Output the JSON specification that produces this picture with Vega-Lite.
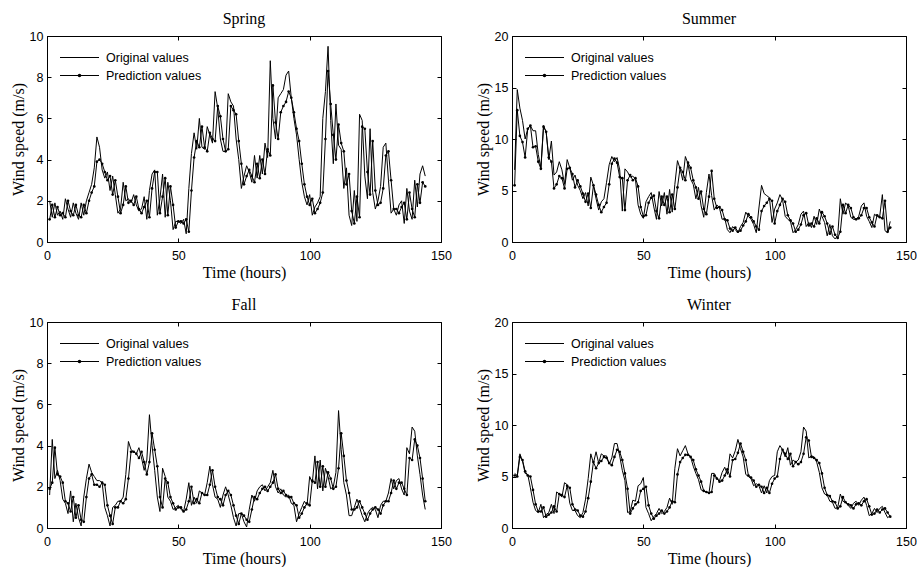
{
"$schema":"https://vega.github.io/schema/vega-lite/v6.json",
"background":"white",
"padding":{"left":9,"top":10,"right":0,"bottom":0},
"config":{
 "view":{"stroke":"black","strokeWidth":1},
 "axis":{"labelFont":"Liberation Sans","labelFontSize":12.5,"labelColor":"black","titleFont":"Liberation Serif","titleFontSize":16,"titleFontWeight":"normal","titleColor":"black","domainColor":"black","tickColor":"black","grid":false,"tickSize":-4,"labelFlush":false,"titlePadding":3},
 "axisX":{"labelPadding":11},
 "axisY":{"labelPadding":8},
 "title":{"font":"Liberation Serif","fontSize":16,"fontWeight":"normal","color":"black","offset":3.5,"baseline":"alphabetic"},
 "legend":{"labelFont":"Liberation Sans","labelFontSize":12.5,"labelColor":"black"}
},
"datasets":{
"spring":[{"t":1,"o":2.0,"p":1.1},{"t":2,"o":1.2,"p":1.8},{"t":3,"o":1.9,"p":1.2},{"t":4,"o":1.3,"p":1.7},{"t":5,"o":1.5,"p":1.3},{"t":6,"o":1.1,"p":1.4},{"t":7,"o":2.1,"p":1.2},{"t":8,"o":1.6,"p":2.0},{"t":9,"o":1.2,"p":1.5},{"t":10,"o":1.9,"p":1.3},{"t":11,"o":1.4,"p":1.8},{"t":12,"o":1.1,"p":1.3},{"t":13,"o":1.9,"p":1.2},{"t":14,"o":1.3,"p":1.8},{"t":15,"o":2.0,"p":1.4},{"t":16,"o":2.4,"p":2.0},{"t":17,"o":2.8,"p":2.4},{"t":18,"o":3.6,"p":2.7},{"t":19,"o":5.1,"p":3.9},{"t":20,"o":4.6,"p":4.0},{"t":21,"o":3.5,"p":3.8},{"t":22,"o":3.1,"p":3.4},{"t":23,"o":3.4,"p":3.0},{"t":24,"o":2.5,"p":3.2},{"t":25,"o":3.2,"p":2.3},{"t":26,"o":2.3,"p":3.0},{"t":27,"o":1.4,"p":2.2},{"t":28,"o":1.6,"p":1.4},{"t":29,"o":2.9,"p":1.8},{"t":30,"o":2.0,"p":2.7},{"t":31,"o":2.1,"p":1.9},{"t":32,"o":1.9,"p":2.0},{"t":33,"o":2.3,"p":1.8},{"t":34,"o":1.8,"p":2.2},{"t":35,"o":1.5,"p":1.6},{"t":36,"o":1.6,"p":1.4},{"t":37,"o":2.2,"p":1.7},{"t":38,"o":1.1,"p":2.0},{"t":39,"o":2.5,"p":1.2},{"t":40,"o":3.3,"p":2.6},{"t":41,"o":3.5,"p":3.4},{"t":42,"o":1.3,"p":3.4},{"t":43,"o":2.1,"p":1.4},{"t":44,"o":3.3,"p":2.2},{"t":45,"o":1.2,"p":3.1},{"t":46,"o":2.9,"p":1.3},{"t":47,"o":2.0,"p":2.7},{"t":48,"o":0.6,"p":1.8},{"t":49,"o":1.0,"p":0.7},{"t":50,"o":1.0,"p":1.0},{"t":51,"o":0.9,"p":1.0},{"t":52,"o":1.1,"p":0.9},{"t":53,"o":0.4,"p":1.1},{"t":54,"o":2.6,"p":0.5},{"t":55,"o":4.3,"p":2.5},{"t":56,"o":5.3,"p":4.1},{"t":57,"o":4.5,"p":4.9},{"t":58,"o":6.0,"p":4.6},{"t":59,"o":4.6,"p":5.6},{"t":60,"o":4.5,"p":4.6},{"t":61,"o":5.6,"p":4.4},{"t":62,"o":5.2,"p":5.3},{"t":63,"o":4.8,"p":5.0},{"t":64,"o":7.3,"p":4.9},{"t":65,"o":6.5,"p":6.6},{"t":66,"o":5.0,"p":6.1},{"t":67,"o":4.4,"p":5.0},{"t":68,"o":4.4,"p":4.4},{"t":69,"o":7.2,"p":4.5},{"t":70,"o":6.8,"p":6.6},{"t":71,"o":6.6,"p":6.4},{"t":72,"o":5.0,"p":6.2},{"t":73,"o":4.0,"p":4.9},{"t":74,"o":2.6,"p":3.8},{"t":75,"o":3.2,"p":2.8},{"t":76,"o":3.7,"p":3.2},{"t":77,"o":3.4,"p":3.5},{"t":78,"o":2.9,"p":3.2},{"t":79,"o":4.2,"p":2.9},{"t":80,"o":3.1,"p":3.8},{"t":81,"o":4.2,"p":3.1},{"t":82,"o":3.3,"p":4.0},{"t":83,"o":4.8,"p":3.3},{"t":84,"o":4.1,"p":4.5},{"t":85,"o":8.8,"p":4.2},{"t":86,"o":6.0,"p":7.6},{"t":87,"o":5.0,"p":5.8},{"t":88,"o":7.0,"p":5.0},{"t":89,"o":7.2,"p":6.3},{"t":90,"o":7.4,"p":6.6},{"t":91,"o":8.1,"p":6.8},{"t":92,"o":8.3,"p":7.3},{"t":93,"o":7.0,"p":7.0},{"t":94,"o":6.0,"p":6.3},{"t":95,"o":5.2,"p":5.5},{"t":96,"o":4.0,"p":4.9},{"t":97,"o":2.9,"p":3.8},{"t":98,"o":2.2,"p":2.8},{"t":99,"o":1.8,"p":2.2},{"t":100,"o":2.3,"p":1.8},{"t":101,"o":1.3,"p":2.1},{"t":102,"o":1.7,"p":1.4},{"t":103,"o":1.9,"p":1.6},{"t":104,"o":2.2,"p":1.9},{"t":105,"o":6.0,"p":2.4},{"t":106,"o":7.3,"p":5.0},{"t":107,"o":9.5,"p":8.3},{"t":108,"o":5.9,"p":6.7},{"t":109,"o":3.8,"p":5.2},{"t":110,"o":6.7,"p":4.0},{"t":111,"o":4.7,"p":5.7},{"t":112,"o":4.5,"p":4.8},{"t":113,"o":2.6,"p":4.4},{"t":114,"o":3.6,"p":2.8},{"t":115,"o":1.3,"p":3.3},{"t":116,"o":0.8,"p":1.5},{"t":117,"o":2.5,"p":0.9},{"t":118,"o":1.0,"p":2.2},{"t":119,"o":6.2,"p":1.2},{"t":120,"o":5.9,"p":5.6},{"t":121,"o":3.2,"p":5.5},{"t":122,"o":2.1,"p":3.4},{"t":123,"o":5.5,"p":2.3},{"t":124,"o":2.4,"p":4.9},{"t":125,"o":1.6,"p":2.5},{"t":126,"o":2.0,"p":1.8},{"t":127,"o":2.7,"p":1.9},{"t":128,"o":4.6,"p":2.6},{"t":129,"o":4.8,"p":4.2},{"t":130,"o":3.0,"p":4.4},{"t":131,"o":1.4,"p":3.0},{"t":132,"o":1.6,"p":1.6},{"t":133,"o":1.3,"p":1.6},{"t":134,"o":1.8,"p":1.4},{"t":135,"o":2.0,"p":1.7},{"t":136,"o":0.9,"p":1.9},{"t":137,"o":2.6,"p":1.1},{"t":138,"o":1.5,"p":2.4},{"t":139,"o":1.1,"p":1.6},{"t":140,"o":3.0,"p":1.2},{"t":141,"o":1.7,"p":2.8},{"t":142,"o":3.3,"p":1.9},{"t":143,"o":3.7,"p":2.9},{"t":144,"o":3.2,"p":2.7}],
"summer":[{"t":1,"o":7.0,"p":5.5},{"t":2,"o":14.8,"p":12.8},{"t":3,"o":13.0,"p":10.3},{"t":4,"o":11.8,"p":9.7},{"t":5,"o":10.0,"p":8.2},{"t":6,"o":11.0,"p":11.0},{"t":7,"o":11.3,"p":11.3},{"t":8,"o":10.8,"p":9.2},{"t":9,"o":10.8,"p":9.3},{"t":10,"o":8.5,"p":7.8},{"t":11,"o":7.2,"p":7.1},{"t":12,"o":11.3,"p":11.2},{"t":13,"o":10.7,"p":10.7},{"t":14,"o":8.0,"p":8.2},{"t":15,"o":9.8,"p":7.8},{"t":16,"o":6.5,"p":5.2},{"t":17,"o":6.8,"p":5.6},{"t":18,"o":7.8,"p":6.4},{"t":19,"o":7.0,"p":6.2},{"t":20,"o":5.6,"p":5.2},{"t":21,"o":8.0,"p":7.1},{"t":22,"o":7.2,"p":7.2},{"t":23,"o":6.0,"p":6.6},{"t":24,"o":6.5,"p":5.3},{"t":25,"o":5.5,"p":6.0},{"t":26,"o":5.0,"p":5.4},{"t":27,"o":4.2,"p":4.7},{"t":28,"o":4.8,"p":3.9},{"t":29,"o":3.5,"p":4.7},{"t":30,"o":6.3,"p":3.3},{"t":31,"o":5.5,"p":5.5},{"t":32,"o":4.2,"p":4.6},{"t":33,"o":3.1,"p":3.6},{"t":34,"o":3.9,"p":2.9},{"t":35,"o":4.2,"p":3.4},{"t":36,"o":5.8,"p":3.8},{"t":37,"o":7.5,"p":5.6},{"t":38,"o":8.3,"p":7.6},{"t":39,"o":7.8,"p":8.1},{"t":40,"o":8.2,"p":7.7},{"t":41,"o":7.0,"p":6.3},{"t":42,"o":3.0,"p":6.2},{"t":43,"o":7.1,"p":3.1},{"t":44,"o":6.8,"p":6.0},{"t":45,"o":6.3,"p":6.5},{"t":46,"o":6.4,"p":6.0},{"t":47,"o":6.1,"p":6.2},{"t":48,"o":3.6,"p":5.4},{"t":49,"o":2.7,"p":3.4},{"t":50,"o":2.3,"p":2.5},{"t":51,"o":3.9,"p":2.6},{"t":52,"o":4.4,"p":3.8},{"t":53,"o":4.8,"p":4.3},{"t":54,"o":3.4,"p":4.5},{"t":55,"o":2.2,"p":3.0},{"t":56,"o":4.9,"p":2.3},{"t":57,"o":3.5,"p":4.4},{"t":58,"o":4.8,"p":3.6},{"t":59,"o":2.7,"p":4.4},{"t":60,"o":5.1,"p":2.9},{"t":61,"o":2.9,"p":4.6},{"t":62,"o":5.6,"p":3.2},{"t":63,"o":7.9,"p":5.3},{"t":64,"o":7.1,"p":7.2},{"t":65,"o":6.0,"p":6.8},{"t":66,"o":8.3,"p":6.0},{"t":67,"o":7.6,"p":7.7},{"t":68,"o":6.1,"p":7.2},{"t":69,"o":5.6,"p":6.0},{"t":70,"o":4.2,"p":5.3},{"t":71,"o":5.3,"p":4.2},{"t":72,"o":3.5,"p":4.9},{"t":73,"o":2.4,"p":3.2},{"t":74,"o":4.8,"p":2.7},{"t":75,"o":6.6,"p":4.4},{"t":76,"o":4.5,"p":6.9},{"t":77,"o":3.1,"p":4.2},{"t":78,"o":3.6,"p":3.3},{"t":79,"o":3.3,"p":3.4},{"t":80,"o":2.2,"p":3.1},{"t":81,"o":2.3,"p":2.2},{"t":82,"o":1.2,"p":2.1},{"t":83,"o":0.9,"p":1.3},{"t":84,"o":1.5,"p":1.1},{"t":85,"o":1.2,"p":1.4},{"t":86,"o":0.9,"p":1.0},{"t":87,"o":1.5,"p":1.1},{"t":88,"o":1.9,"p":1.6},{"t":89,"o":2.9,"p":2.0},{"t":90,"o":2.5,"p":2.7},{"t":91,"o":2.2,"p":2.4},{"t":92,"o":1.7,"p":2.0},{"t":93,"o":0.9,"p":1.5},{"t":94,"o":3.3,"p":1.2},{"t":95,"o":5.5,"p":3.0},{"t":96,"o":4.7,"p":3.5},{"t":97,"o":4.5,"p":3.8},{"t":98,"o":4.3,"p":4.2},{"t":99,"o":1.9,"p":4.0},{"t":100,"o":3.2,"p":1.8},{"t":101,"o":3.8,"p":3.0},{"t":102,"o":4.6,"p":3.6},{"t":103,"o":4.1,"p":4.2},{"t":104,"o":2.5,"p":3.9},{"t":105,"o":2.2,"p":2.6},{"t":106,"o":2.0,"p":2.1},{"t":107,"o":0.9,"p":1.8},{"t":108,"o":1.2,"p":1.0},{"t":109,"o":1.7,"p":1.2},{"t":110,"o":2.7,"p":1.7},{"t":111,"o":3.0,"p":2.6},{"t":112,"o":1.5,"p":2.8},{"t":113,"o":1.9,"p":1.6},{"t":114,"o":1.4,"p":1.8},{"t":115,"o":2.5,"p":1.5},{"t":116,"o":1.7,"p":2.3},{"t":117,"o":3.2,"p":1.8},{"t":118,"o":2.5,"p":2.9},{"t":119,"o":1.9,"p":2.5},{"t":120,"o":0.6,"p":1.8},{"t":121,"o":1.7,"p":0.8},{"t":122,"o":0.6,"p":1.5},{"t":123,"o":0.3,"p":0.7},{"t":124,"o":0.6,"p":0.4},{"t":125,"o":4.2,"p":1.0},{"t":126,"o":2.7,"p":3.6},{"t":127,"o":3.8,"p":2.8},{"t":128,"o":3.5,"p":3.6},{"t":129,"o":2.4,"p":3.3},{"t":130,"o":2.2,"p":2.4},{"t":131,"o":2.2,"p":2.2},{"t":132,"o":2.5,"p":2.3},{"t":133,"o":3.5,"p":2.6},{"t":134,"o":3.8,"p":3.3},{"t":135,"o":2.5,"p":3.3},{"t":136,"o":2.0,"p":2.4},{"t":137,"o":1.4,"p":1.9},{"t":138,"o":2.7,"p":1.5},{"t":139,"o":2.5,"p":2.6},{"t":140,"o":2.5,"p":2.4},{"t":141,"o":4.6,"p":2.3},{"t":142,"o":1.1,"p":4.0},{"t":143,"o":0.9,"p":1.0},{"t":144,"o":2.0,"p":1.4}],
"fall":[{"t":1,"o":1.6,"p":1.9},{"t":2,"o":4.3,"p":2.2},{"t":3,"o":2.4,"p":3.9},{"t":4,"o":2.8,"p":2.6},{"t":5,"o":2.3,"p":2.5},{"t":6,"o":1.4,"p":2.2},{"t":7,"o":1.2,"p":1.3},{"t":8,"o":0.7,"p":1.2},{"t":9,"o":1.8,"p":0.8},{"t":10,"o":0.3,"p":1.5},{"t":11,"o":1.2,"p":0.5},{"t":12,"o":0.5,"p":1.1},{"t":13,"o":0.1,"p":0.4},{"t":14,"o":1.5,"p":0.3},{"t":15,"o":2.4,"p":1.5},{"t":16,"o":3.1,"p":2.4},{"t":17,"o":2.7,"p":2.6},{"t":18,"o":2.5,"p":2.1},{"t":19,"o":2.3,"p":2.1},{"t":20,"o":2.3,"p":2.0},{"t":21,"o":2.2,"p":2.2},{"t":22,"o":1.0,"p":2.1},{"t":23,"o":0.6,"p":1.1},{"t":24,"o":0.1,"p":0.6},{"t":25,"o":1.0,"p":0.2},{"t":26,"o":1.1,"p":1.0},{"t":27,"o":1.3,"p":1.0},{"t":28,"o":1.3,"p":1.3},{"t":29,"o":1.5,"p":1.2},{"t":30,"o":2.6,"p":1.4},{"t":31,"o":4.2,"p":2.4},{"t":32,"o":3.8,"p":3.7},{"t":33,"o":3.7,"p":3.7},{"t":34,"o":3.6,"p":3.6},{"t":35,"o":3.9,"p":3.4},{"t":36,"o":3.4,"p":3.7},{"t":37,"o":2.8,"p":3.2},{"t":38,"o":3.3,"p":2.6},{"t":39,"o":5.5,"p":3.2},{"t":40,"o":4.0,"p":4.6},{"t":41,"o":2.8,"p":3.8},{"t":42,"o":1.5,"p":3.0},{"t":43,"o":0.8,"p":1.5},{"t":44,"o":2.9,"p":1.0},{"t":45,"o":2.5,"p":2.4},{"t":46,"o":1.5,"p":2.2},{"t":47,"o":1.3,"p":1.5},{"t":48,"o":0.9,"p":1.2},{"t":49,"o":1.0,"p":0.9},{"t":50,"o":1.1,"p":1.0},{"t":51,"o":0.9,"p":1.0},{"t":52,"o":0.8,"p":0.8},{"t":53,"o":1.4,"p":0.9},{"t":54,"o":2.2,"p":1.3},{"t":55,"o":1.1,"p":2.0},{"t":56,"o":1.5,"p":1.2},{"t":57,"o":1.2,"p":1.4},{"t":58,"o":1.8,"p":1.2},{"t":59,"o":1.7,"p":1.7},{"t":60,"o":1.6,"p":1.6},{"t":61,"o":2.2,"p":1.6},{"t":62,"o":3.0,"p":2.1},{"t":63,"o":2.1,"p":2.8},{"t":64,"o":1.5,"p":2.0},{"t":65,"o":1.4,"p":1.5},{"t":66,"o":1.0,"p":1.4},{"t":67,"o":1.6,"p":1.1},{"t":68,"o":2.0,"p":1.6},{"t":69,"o":1.6,"p":1.8},{"t":70,"o":1.1,"p":1.6},{"t":71,"o":0.5,"p":1.1},{"t":72,"o":0.1,"p":0.6},{"t":73,"o":0.7,"p":0.2},{"t":74,"o":0.7,"p":0.7},{"t":75,"o":0.3,"p":0.6},{"t":76,"o":0.05,"p":0.4},{"t":77,"o":0.9,"p":0.3},{"t":78,"o":1.6,"p":0.9},{"t":79,"o":1.3,"p":1.5},{"t":80,"o":1.8,"p":1.4},{"t":81,"o":2.0,"p":1.7},{"t":82,"o":2.1,"p":1.9},{"t":83,"o":1.8,"p":2.0},{"t":84,"o":2.0,"p":1.8},{"t":85,"o":2.2,"p":2.0},{"t":86,"o":2.8,"p":2.2},{"t":87,"o":2.0,"p":2.6},{"t":88,"o":1.7,"p":1.9},{"t":89,"o":1.9,"p":1.7},{"t":90,"o":1.6,"p":1.8},{"t":91,"o":1.5,"p":1.6},{"t":92,"o":1.6,"p":1.5},{"t":93,"o":1.2,"p":1.5},{"t":94,"o":1.1,"p":1.2},{"t":95,"o":0.3,"p":1.1},{"t":96,"o":0.7,"p":0.5},{"t":97,"o":1.0,"p":0.7},{"t":98,"o":1.3,"p":1.0},{"t":99,"o":1.1,"p":1.2},{"t":100,"o":2.5,"p":1.1},{"t":101,"o":2.2,"p":2.3},{"t":102,"o":3.5,"p":2.2},{"t":103,"o":1.9,"p":3.2},{"t":104,"o":3.3,"p":2.0},{"t":105,"o":1.8,"p":3.0},{"t":106,"o":2.9,"p":2.0},{"t":107,"o":2.5,"p":2.7},{"t":108,"o":1.9,"p":2.4},{"t":109,"o":2.0,"p":1.9},{"t":110,"o":2.7,"p":2.0},{"t":111,"o":5.7,"p":2.9},{"t":112,"o":3.8,"p":4.6},{"t":113,"o":2.2,"p":3.5},{"t":114,"o":1.6,"p":2.3},{"t":115,"o":0.6,"p":1.7},{"t":116,"o":0.6,"p":0.9},{"t":117,"o":1.0,"p":0.9},{"t":118,"o":1.4,"p":1.0},{"t":119,"o":1.0,"p":1.3},{"t":120,"o":0.6,"p":1.0},{"t":121,"o":0.3,"p":0.7},{"t":122,"o":0.7,"p":0.4},{"t":123,"o":0.9,"p":0.7},{"t":124,"o":1.0,"p":0.9},{"t":125,"o":0.9,"p":1.0},{"t":126,"o":0.5,"p":0.9},{"t":127,"o":1.1,"p":0.7},{"t":128,"o":1.3,"p":1.1},{"t":129,"o":1.3,"p":1.3},{"t":130,"o":1.7,"p":1.3},{"t":131,"o":2.4,"p":1.7},{"t":132,"o":1.9,"p":2.3},{"t":133,"o":2.3,"p":1.9},{"t":134,"o":2.4,"p":2.2},{"t":135,"o":1.9,"p":2.2},{"t":136,"o":1.6,"p":1.9},{"t":137,"o":3.9,"p":1.6},{"t":138,"o":3.6,"p":3.4},{"t":139,"o":4.9,"p":3.3},{"t":140,"o":4.7,"p":4.3},{"t":141,"o":3.5,"p":4.0},{"t":142,"o":2.6,"p":3.4},{"t":143,"o":1.6,"p":2.4},{"t":144,"o":0.9,"p":1.3}],
"winter":[{"t":1,"o":5.3,"p":5.1},{"t":2,"o":5.1,"p":5.0},{"t":3,"o":7.2,"p":6.9},{"t":4,"o":6.5,"p":6.6},{"t":5,"o":5.3,"p":5.5},{"t":6,"o":5.2,"p":5.1},{"t":7,"o":3.9,"p":5.0},{"t":8,"o":2.5,"p":3.7},{"t":9,"o":1.7,"p":2.3},{"t":10,"o":1.5,"p":1.6},{"t":11,"o":2.3,"p":1.6},{"t":12,"o":1.0,"p":2.0},{"t":13,"o":1.3,"p":1.1},{"t":14,"o":1.5,"p":1.3},{"t":15,"o":2.3,"p":1.5},{"t":16,"o":1.4,"p":2.1},{"t":17,"o":3.5,"p":1.6},{"t":18,"o":3.3,"p":3.3},{"t":19,"o":3.0,"p":3.2},{"t":20,"o":4.4,"p":3.0},{"t":21,"o":4.2,"p":4.1},{"t":22,"o":2.4,"p":3.9},{"t":23,"o":1.7,"p":2.3},{"t":24,"o":1.7,"p":1.8},{"t":25,"o":1.2,"p":1.7},{"t":26,"o":1.0,"p":1.2},{"t":27,"o":1.5,"p":1.1},{"t":28,"o":2.8,"p":1.6},{"t":29,"o":4.8,"p":2.9},{"t":30,"o":7.2,"p":4.5},{"t":31,"o":6.3,"p":6.4},{"t":32,"o":7.4,"p":5.8},{"t":33,"o":6.3,"p":6.3},{"t":34,"o":7.2,"p":6.5},{"t":35,"o":7.0,"p":6.9},{"t":36,"o":7.0,"p":6.8},{"t":37,"o":6.2,"p":6.3},{"t":38,"o":6.8,"p":6.1},{"t":39,"o":8.2,"p":6.9},{"t":40,"o":8.2,"p":7.6},{"t":41,"o":7.0,"p":7.4},{"t":42,"o":5.6,"p":6.6},{"t":43,"o":4.6,"p":5.3},{"t":44,"o":1.5,"p":3.8},{"t":45,"o":1.6,"p":1.4},{"t":46,"o":2.7,"p":1.9},{"t":47,"o":2.6,"p":2.3},{"t":48,"o":4.1,"p":2.5},{"t":49,"o":4.3,"p":3.6},{"t":50,"o":4.9,"p":3.8},{"t":51,"o":2.0,"p":4.0},{"t":52,"o":1.4,"p":2.2},{"t":53,"o":0.7,"p":1.4},{"t":54,"o":1.1,"p":0.9},{"t":55,"o":1.4,"p":1.2},{"t":56,"o":1.9,"p":1.4},{"t":57,"o":1.4,"p":1.7},{"t":58,"o":1.6,"p":1.4},{"t":59,"o":2.0,"p":1.6},{"t":60,"o":2.9,"p":2.0},{"t":61,"o":2.3,"p":2.6},{"t":62,"o":5.8,"p":2.5},{"t":63,"o":7.7,"p":5.2},{"t":64,"o":7.0,"p":6.4},{"t":65,"o":7.5,"p":6.8},{"t":66,"o":8.0,"p":7.1},{"t":67,"o":7.2,"p":7.1},{"t":68,"o":6.9,"p":6.9},{"t":69,"o":6.0,"p":6.6},{"t":70,"o":5.3,"p":5.7},{"t":71,"o":4.7,"p":5.1},{"t":72,"o":3.7,"p":4.5},{"t":73,"o":3.6,"p":3.6},{"t":74,"o":3.5,"p":3.5},{"t":75,"o":3.4,"p":3.4},{"t":76,"o":5.3,"p":3.5},{"t":77,"o":5.3,"p":5.1},{"t":78,"o":4.8,"p":4.8},{"t":79,"o":4.6,"p":4.5},{"t":80,"o":5.4,"p":4.6},{"t":81,"o":5.9,"p":5.1},{"t":82,"o":5.2,"p":5.7},{"t":83,"o":7.2,"p":5.0},{"t":84,"o":6.8,"p":6.6},{"t":85,"o":7.5,"p":6.7},{"t":86,"o":8.6,"p":7.3},{"t":87,"o":7.7,"p":8.2},{"t":88,"o":6.9,"p":7.4},{"t":89,"o":5.2,"p":6.6},{"t":90,"o":5.0,"p":5.1},{"t":91,"o":4.8,"p":4.9},{"t":92,"o":4.1,"p":4.6},{"t":93,"o":4.3,"p":4.0},{"t":94,"o":4.1,"p":4.2},{"t":95,"o":3.4,"p":4.0},{"t":96,"o":4.1,"p":3.4},{"t":97,"o":3.4,"p":3.9},{"t":98,"o":4.6,"p":3.4},{"t":99,"o":5.0,"p":4.3},{"t":100,"o":5.1,"p":4.8},{"t":101,"o":7.4,"p":5.0},{"t":102,"o":8.0,"p":6.7},{"t":103,"o":7.6,"p":7.6},{"t":104,"o":6.9,"p":7.2},{"t":105,"o":7.8,"p":6.7},{"t":106,"o":6.1,"p":7.2},{"t":107,"o":6.6,"p":6.0},{"t":108,"o":6.4,"p":6.4},{"t":109,"o":6.6,"p":6.2},{"t":110,"o":7.4,"p":6.4},{"t":111,"o":9.8,"p":7.2},{"t":112,"o":9.4,"p":8.8},{"t":113,"o":6.8,"p":8.5},{"t":114,"o":7.0,"p":6.9},{"t":115,"o":6.9,"p":6.8},{"t":116,"o":6.4,"p":6.6},{"t":117,"o":5.4,"p":6.3},{"t":118,"o":3.9,"p":5.3},{"t":119,"o":3.3,"p":3.9},{"t":120,"o":3.2,"p":3.2},{"t":121,"o":2.6,"p":3.1},{"t":122,"o":2.5,"p":2.6},{"t":123,"o":1.9,"p":2.5},{"t":124,"o":2.0,"p":1.9},{"t":125,"o":3.3,"p":2.1},{"t":126,"o":2.6,"p":3.0},{"t":127,"o":2.5,"p":2.5},{"t":128,"o":2.2,"p":2.3},{"t":129,"o":1.9,"p":2.2},{"t":130,"o":2.4,"p":1.9},{"t":131,"o":2.6,"p":2.3},{"t":132,"o":2.2,"p":2.4},{"t":133,"o":2.7,"p":2.2},{"t":134,"o":3.0,"p":2.6},{"t":135,"o":2.2,"p":2.8},{"t":136,"o":1.2,"p":2.1},{"t":137,"o":1.4,"p":1.3},{"t":138,"o":1.9,"p":1.4},{"t":139,"o":1.5,"p":1.8},{"t":140,"o":1.9,"p":1.5},{"t":141,"o":2.1,"p":1.8},{"t":142,"o":1.5,"p":1.9},{"t":143,"o":1.0,"p":1.5},{"t":144,"o":1.2,"p":1.1}]
},
"columns":2,
"spacing":{"row":80,"column":71},
"bounds":"flush",
"resolve":{"scale":{"shape":"independent"},"legend":{"shape":"independent"}},
"concat":[
{"title":"Spring","width":394,"height":206,"data":{"name":"spring"},
 "transform":[{"fold":["o","p"],"as":["series","speed"]}],
 "encoding":{"x":{"field":"t","type":"quantitative","scale":{"domain":[0,150],"nice":false,"zero":false},"axis":{"values":[0,50,100,150],"title":"Time (hours)"}},
  "y":{"field":"speed","type":"quantitative","scale":{"domain":[0,10],"nice":false},"axis":{"values":[0,2,4,6,8,10],"title":"Wind speed (m/s)"}}},
 "layer":[
  {"mark":{"type":"line","strokeWidth":1,"color":"black"},"encoding":{"detail":{"field":"series","type":"nominal"}}},
  {"transform":[{"filter":"datum.series == 'p'"}],"mark":{"type":"point","filled":true,"size":7,"color":"black","opacity":1},"encoding":{"x":{"field":"t","type":"quantitative","axis":null},"y":{"field":"speed","type":"quantitative","axis":null}}},
  {"mark":{"type":"point","filled":true,"color":"black","opacity":0},"encoding":{"x":{"field":"t","type":"quantitative","axis":{"orient":"top","labels":false,"domain":false,"title":null,"values":[0,50,100,150]}},"y":{"field":"speed","type":"quantitative","axis":{"orient":"right","labels":false,"domain":false,"title":null,"values":[0,2,4,6,8,10]}},
   "shape":{"field":"series","type":"nominal","scale":{"domain":["o","p"],"range":["M-3,-0.08L3,-0.08L3,0.08L-3,0.08Z","M-3,-0.08L3,-0.08L3,0.08L-3,0.08ZM-0.27,0A0.27,0.27,0,1,1,0.27,0A0.27,0.27,0,1,1,-0.27,0Z"]},
    "legend":{"title":null,"orient":"none","legendX":26,"legendY":15,"padding":0,"symbolSize":169,"symbolStrokeWidth":0,"symbolOpacity":1,"symbolFillColor":"black","labelOffset":20,"rowPadding":5,"labelExpr":"datum.label == 'o' ? 'Original values' : 'Prediction values'"}}}}
 ],
 "resolve":{"axis":{"x":"independent","y":"independent"}}},
{"title":"Summer","width":394,"height":206,"data":{"name":"summer"},
 "transform":[{"fold":["o","p"],"as":["series","speed"]}],
 "encoding":{"x":{"field":"t","type":"quantitative","scale":{"domain":[0,150],"nice":false,"zero":false},"axis":{"values":[0,50,100,150],"title":"Time (hours)"}},
  "y":{"field":"speed","type":"quantitative","scale":{"domain":[0,20],"nice":false},"axis":{"values":[0,5,10,15,20],"title":"Wind speed (m/s)"}}},
 "layer":[
  {"mark":{"type":"line","strokeWidth":1,"color":"black"},"encoding":{"detail":{"field":"series","type":"nominal"}}},
  {"transform":[{"filter":"datum.series == 'p'"}],"mark":{"type":"point","filled":true,"size":7,"color":"black","opacity":1},"encoding":{"x":{"field":"t","type":"quantitative","axis":null},"y":{"field":"speed","type":"quantitative","axis":null}}},
  {"mark":{"type":"point","filled":true,"color":"black","opacity":0},"encoding":{"x":{"field":"t","type":"quantitative","axis":{"orient":"top","labels":false,"domain":false,"title":null,"values":[0,50,100,150]}},"y":{"field":"speed","type":"quantitative","axis":{"orient":"right","labels":false,"domain":false,"title":null,"values":[0,5,10,15,20]}},
   "shape":{"field":"series","type":"nominal","scale":{"domain":["o","p"],"range":["M-3,-0.08L3,-0.08L3,0.08L-3,0.08Z","M-3,-0.08L3,-0.08L3,0.08L-3,0.08ZM-0.27,0A0.27,0.27,0,1,1,0.27,0A0.27,0.27,0,1,1,-0.27,0Z"]},
    "legend":{"title":null,"orient":"none","legendX":26,"legendY":15,"padding":0,"symbolSize":169,"symbolStrokeWidth":0,"symbolOpacity":1,"symbolFillColor":"black","labelOffset":20,"rowPadding":5,"labelExpr":"datum.label == 'o' ? 'Original values' : 'Prediction values'"}}}}
 ],
 "resolve":{"axis":{"x":"independent","y":"independent"}}},
{"title":"Fall","width":394,"height":206,"data":{"name":"fall"},
 "transform":[{"fold":["o","p"],"as":["series","speed"]}],
 "encoding":{"x":{"field":"t","type":"quantitative","scale":{"domain":[0,150],"nice":false,"zero":false},"axis":{"values":[0,50,100,150],"title":"Time (hours)"}},
  "y":{"field":"speed","type":"quantitative","scale":{"domain":[0,10],"nice":false},"axis":{"values":[0,2,4,6,8,10],"title":"Wind speed (m/s)"}}},
 "layer":[
  {"mark":{"type":"line","strokeWidth":1,"color":"black"},"encoding":{"detail":{"field":"series","type":"nominal"}}},
  {"transform":[{"filter":"datum.series == 'p'"}],"mark":{"type":"point","filled":true,"size":7,"color":"black","opacity":1},"encoding":{"x":{"field":"t","type":"quantitative","axis":null},"y":{"field":"speed","type":"quantitative","axis":null}}},
  {"mark":{"type":"point","filled":true,"color":"black","opacity":0},"encoding":{"x":{"field":"t","type":"quantitative","axis":{"orient":"top","labels":false,"domain":false,"title":null,"values":[0,50,100,150]}},"y":{"field":"speed","type":"quantitative","axis":{"orient":"right","labels":false,"domain":false,"title":null,"values":[0,2,4,6,8,10]}},
   "shape":{"field":"series","type":"nominal","scale":{"domain":["o","p"],"range":["M-3,-0.08L3,-0.08L3,0.08L-3,0.08Z","M-3,-0.08L3,-0.08L3,0.08L-3,0.08ZM-0.27,0A0.27,0.27,0,1,1,0.27,0A0.27,0.27,0,1,1,-0.27,0Z"]},
    "legend":{"title":null,"orient":"none","legendX":26,"legendY":15,"padding":0,"symbolSize":169,"symbolStrokeWidth":0,"symbolOpacity":1,"symbolFillColor":"black","labelOffset":20,"rowPadding":5,"labelExpr":"datum.label == 'o' ? 'Original values' : 'Prediction values'"}}}}
 ],
 "resolve":{"axis":{"x":"independent","y":"independent"}}},
{"title":"Winter","width":394,"height":206,"data":{"name":"winter"},
 "transform":[{"fold":["o","p"],"as":["series","speed"]}],
 "encoding":{"x":{"field":"t","type":"quantitative","scale":{"domain":[0,150],"nice":false,"zero":false},"axis":{"values":[0,50,100,150],"title":"Time (hours)"}},
  "y":{"field":"speed","type":"quantitative","scale":{"domain":[0,20],"nice":false},"axis":{"values":[0,5,10,15,20],"title":"Wind speed (m/s)"}}},
 "layer":[
  {"mark":{"type":"line","strokeWidth":1,"color":"black"},"encoding":{"detail":{"field":"series","type":"nominal"}}},
  {"transform":[{"filter":"datum.series == 'p'"}],"mark":{"type":"point","filled":true,"size":7,"color":"black","opacity":1},"encoding":{"x":{"field":"t","type":"quantitative","axis":null},"y":{"field":"speed","type":"quantitative","axis":null}}},
  {"mark":{"type":"point","filled":true,"color":"black","opacity":0},"encoding":{"x":{"field":"t","type":"quantitative","axis":{"orient":"top","labels":false,"domain":false,"title":null,"values":[0,50,100,150]}},"y":{"field":"speed","type":"quantitative","axis":{"orient":"right","labels":false,"domain":false,"title":null,"values":[0,5,10,15,20]}},
   "shape":{"field":"series","type":"nominal","scale":{"domain":["o","p"],"range":["M-3,-0.08L3,-0.08L3,0.08L-3,0.08Z","M-3,-0.08L3,-0.08L3,0.08L-3,0.08ZM-0.27,0A0.27,0.27,0,1,1,0.27,0A0.27,0.27,0,1,1,-0.27,0Z"]},
    "legend":{"title":null,"orient":"none","legendX":26,"legendY":15,"padding":0,"symbolSize":169,"symbolStrokeWidth":0,"symbolOpacity":1,"symbolFillColor":"black","labelOffset":20,"rowPadding":5,"labelExpr":"datum.label == 'o' ? 'Original values' : 'Prediction values'"}}}}
 ],
 "resolve":{"axis":{"x":"independent","y":"independent"}}}
]
}
